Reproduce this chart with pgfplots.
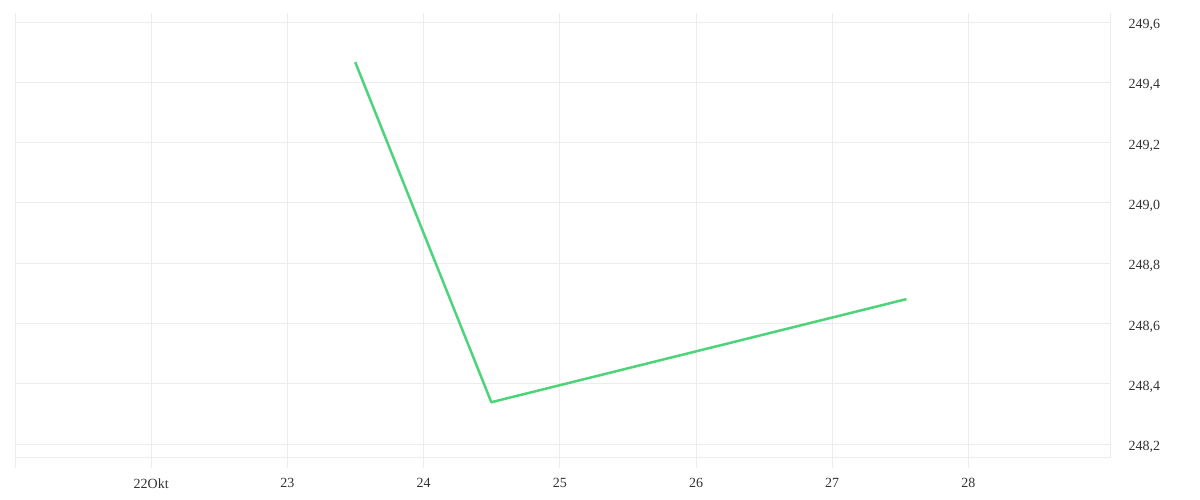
\documentclass[border=0pt]{standalone}
\usepackage{pgfplots}
\pgfplotsset{compat=1.18}
\usepackage{fontspec}
\setmainfont{Liberation Serif}
\definecolor{gridc}{RGB}{236,236,236}
\definecolor{linec}{RGB}{76,212,122}
\definecolor{txt}{RGB}{51,51,51}
\begin{document}
\begin{tikzpicture}[x=1pt,y=1pt]
\path[use as bounding box] (0,0) rectangle (1200,500);
\begin{axis}[
  at={(15pt,42pt)}, anchor=south west,
  scale only axis, width=1095pt, height=445pt,
  xmin=21, xmax=29.04, ymin=248.154, ymax=249.63,
  axis x line*=bottom, axis y line*=right,
  axis line style={draw=gridc, line width=1pt, -},
  xtick={21,22,23,24,25,26,27,28},
  xticklabels={,22Okt,23,24,25,26,27,28},
  ytick={248.2,248.4,248.6,248.8,249.0,249.2,249.4,249.6},
  grid=major, major grid style={draw=gridc, line width=1pt},
  x tick style={draw=gridc, line width=1pt},
  major tick length=10pt,
  xtick pos=bottom, xtick align=outside,
  ytick style={draw=none},
  tick label style={font=\fontsize{14}{16}\selectfont, text=txt},
  yticklabel style={anchor=west, xshift=15pt, yshift=-3pt},
  xticklabel style={yshift=-7pt},
  /pgf/number format/.cd, use comma, fixed, fixed zerofill, precision=1, 1000 sep={}, assume math mode=true,
]
\addplot[linec, line width=2.5pt, line join=round] coordinates {
  (23.498,249.467) (24.497,248.339) (27.545,248.681)
};
\end{axis}
\end{tikzpicture}
\end{document}
